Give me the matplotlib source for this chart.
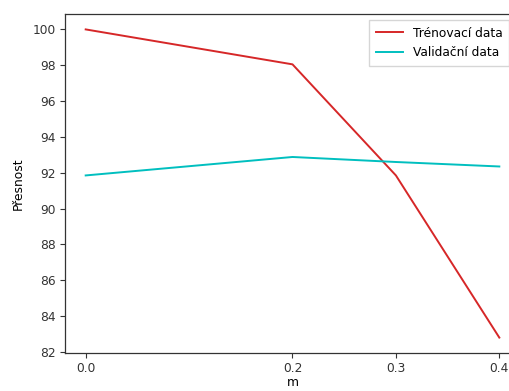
import matplotlib
matplotlib.use("Agg")
import matplotlib.pyplot as plt

# Regularisation parameter m and accuracy (%) on training / validation sets
m_values = [0.0, 0.2, 0.3, 0.4]
train_acc = [100.0, 98.05, 91.85, 82.8]
valid_acc = [91.85, 92.88, 92.6, 92.35]
x_ticks = [0.0, 0.2, 0.3, 0.4]
y_ticks = [82, 84, 86, 88, 90, 92, 94, 96, 98, 100]

plt.rcParams["font.family"] = "DejaVu Sans"
plt.rcParams["font.size"] = 8.8

fig = plt.figure(figsize=(5.10, 3.91), dpi=100)
ax = fig.add_axes([65 / 510, 38 / 391, 455 / 510, 339 / 391])

ax.plot(m_values, train_acc, color="#d62728", lw=1.4, label="Trénovací data")
ax.plot(m_values, valid_acc, color="#00bfbf", lw=1.4, label="Validační data")

ax.set_xticks(x_ticks)
ax.set_yticks(y_ticks)
ax.set_xlabel("m", labelpad=1)
ax.set_ylabel("Přesnost", labelpad=6)
ax.tick_params(length=3.5, width=0.8, pad=3, colors="#333333", labelsize=8.8)
for s in ax.spines.values():
    s.set_linewidth(0.9)
    s.set_color("#333333")
ax.spines["right"].set_visible(False)

ax.legend(loc="upper right", bbox_to_anchor=(509 / 510, 1 - 20 / 391),
          bbox_transform=fig.transFigure, fontsize=8.8, handlelength=2.2,
          borderaxespad=0, borderpad=0.55, labelspacing=0.55,
          framealpha=0.8, edgecolor="#cccccc", fancybox=False)

fig.savefig("out.png", dpi=100)
